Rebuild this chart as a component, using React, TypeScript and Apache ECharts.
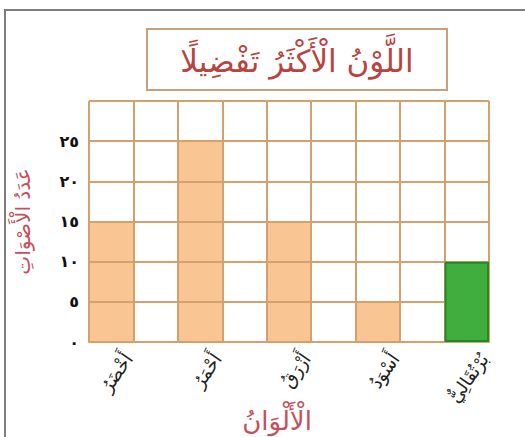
import React, { useEffect, useRef } from "react";
import * as echarts from "echarts";

const categories = ["أَخْضَرُ", "أَحْمَرُ", "أَزْرَقُ", "أَسْوَدُ", "بُرْتُقَالِيٌّ"];
const votes = [15, 25, 15, 5, 10];
const highlightIndex = 4;
const yTickLabels = ["٠", "٥", "١٠", "١٥", "٢٠", "٢٥", ""];
const titleText = "اللَّوْنُ الْأَكْثَرُ تَفْضِيلًا";
const yName = "عَدَدُ الْأَصْوَاتِ";
const xName = "الْأَلْوَانُ";

export default function App() {
  const ref = useRef<HTMLDivElement>(null);
  useEffect(() => {
    if (!ref.current) return;
    const chart = echarts.init(ref.current, undefined, { renderer: "svg" });
    // 9 slots: each category followed by an empty spacer column
    const slots: string[] = [];
    const orange: (number | string)[] = [];
    const green: (number | string)[] = [];
    categories.forEach((c, i) => {
      if (i > 0) {
        slots.push(" ".repeat(i));
        orange.push("-");
        green.push("-");
      }
      slots.push(c);
      orange.push(i === highlightIndex ? "-" : votes[i]);
      green.push(i === highlightIndex ? votes[i] : "-");
    });
    const labelMap: Record<string, string> = {};
    categories.forEach((c) => (labelMap[c] = c));
    const font = "'DejaVu Sans', 'Noto Sans', sans-serif";
    const lineColor = "#d4a06c";
    chart.setOption({
      animation: false,
      title: {
        text: titleText,
        left: 297,
        top: 45,
        textAlign: "center",
        padding: 0,
        textStyle: { color: "#b8433f", fontSize: 31, fontWeight: "normal", fontFamily: font },
      },
      grid: { left: 89, right: 36, top: 101, bottom: 95, containLabel: false, outerBoundsMode: "none" },
      xAxis: {
        type: "category",
        data: slots,
        z: 3,
        boundaryGap: true,
        axisLine: { show: true, lineStyle: { color: lineColor, width: 2 } },
        axisTick: { show: false },
        splitLine: { show: true, interval: 0, lineStyle: { color: lineColor, width: 2 } },
        axisLabel: {
          interval: 0,
          rotate: 55,
          margin: 38,
          align: "right",
          verticalAlign: "middle",
          padding: [0, -30, 0, 0],
          color: "#222",
          fontSize: 18,
          fontFamily: font,
          formatter: (v: string) => labelMap[v] || "",
        },
        name: xName,
        nameLocation: "middle",
        nameGap: 66,
        nameMoveOverlap: false,
        nameTextStyle: { color: "#c4505a", fontSize: 26, fontFamily: font, padding: [0, 24, 0, 0] },
      },
      yAxis: {
        type: "value",
        min: 0,
        max: 30,
        interval: 5,
        z: 3,
        axisLine: { show: false },
        axisTick: { show: false },
        splitLine: { show: true, lineStyle: { color: lineColor, width: 2 } },
        axisLabel: {
          color: "#111",
          fontSize: 16,
          fontWeight: "bold",
          margin: 10,
          fontFamily: font,
          formatter: (v: number) => yTickLabels[Math.round(v / 5)] ?? "",
        },
        name: yName,
        nameLocation: "middle",
        nameGap: 56,
        nameRotate: 90,
        nameMoveOverlap: false,
        nameTextStyle: { color: "#c4505a", fontSize: 20, fontFamily: font },
      },
      series: [
        {
          type: "bar",
          data: orange,
          barWidth: "100%",
          barGap: "-100%",
          z: 2,
          itemStyle: { color: "#f8c593" },
        },
        {
          type: "bar",
          data: green,
          barWidth: "100%",
          barGap: "-100%",
          z: 4,
          itemStyle: { color: "#3fae3f", borderColor: "#238a23", borderWidth: 2 },
        },
      ],
      graphic: [
        {
          type: "rect",
          shape: { x: 147, y: 29, width: 300, height: 61 },
          style: { fill: "#fff", stroke: "#c9a07a", lineWidth: 2 },
          z: -1,
        },
        {
          type: "line",
          shape: { x1: 5, y1: 10, x2: 5, y2: 437 },
          style: { stroke: "#7d7d7d", lineWidth: 2 },
        },
        {
          type: "line",
          shape: { x1: 4, y1: 10, x2: 525, y2: 10 },
          style: { stroke: "#7d7d7d", lineWidth: 2 },
        },
      ],
    });
    return () => chart.dispose();
  }, []);
  return (
    <div
      ref={ref}
      style={{ position: "fixed", left: 0, top: 0, width: 525, height: 437, background: "#fff" }}
    />
  );
}
